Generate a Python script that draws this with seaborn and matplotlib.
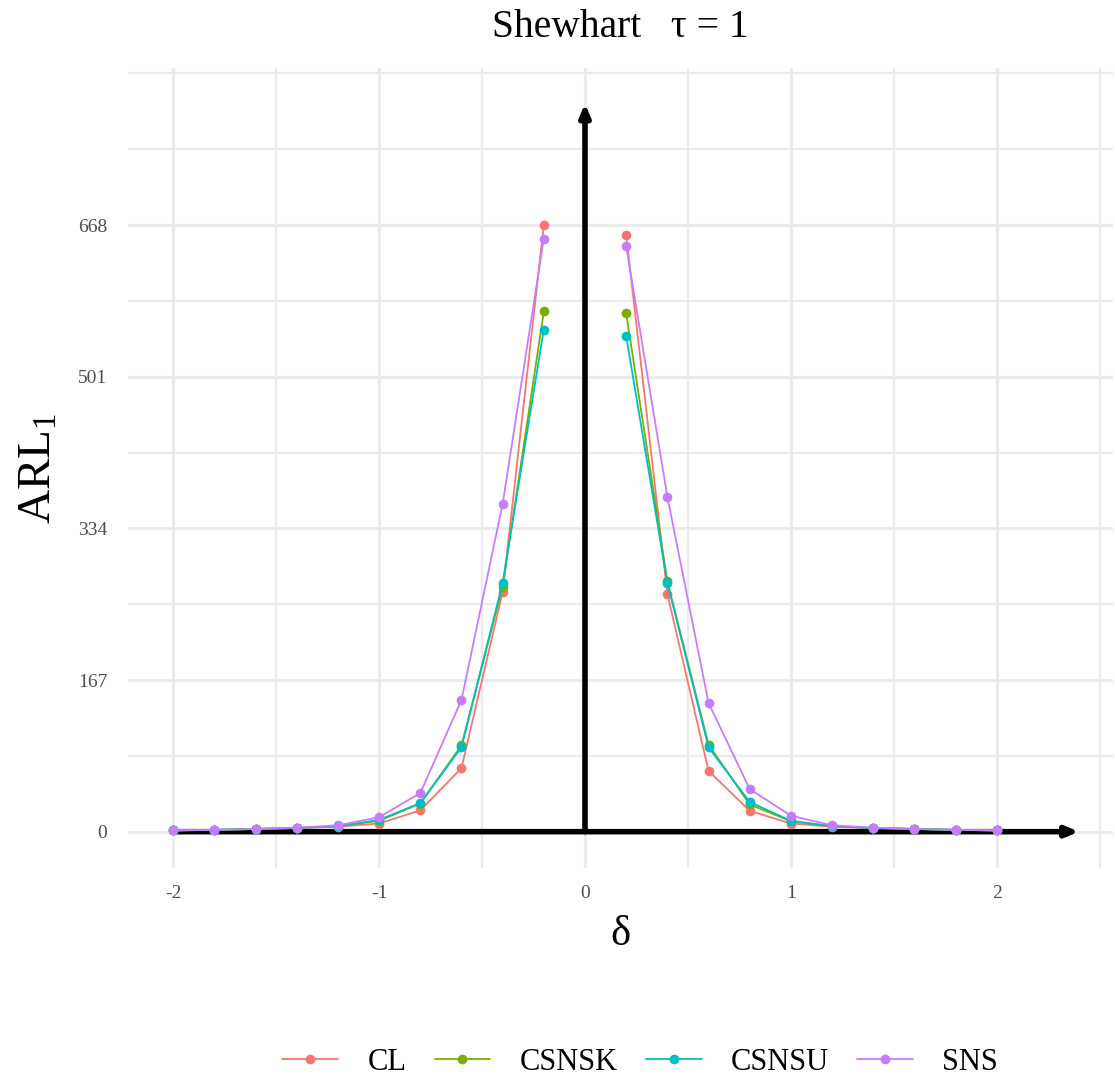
import numpy as np
import pandas as pd
import matplotlib
matplotlib.use("Agg")
import matplotlib.pyplot as plt
import seaborn as sns
from matplotlib.ticker import FixedLocator

# ---- data ----
delta = [-2.0, -1.8, -1.6, -1.4, -1.2, -1.0, -0.8, -0.6, -0.4, -0.2,
         0.2, 0.4, 0.6, 0.8, 1.0, 1.2, 1.4, 1.6, 1.8, 2.0]
arl_CL = [1.3, 2, 3, 4, 5.5, 9, 23.5, 70, 264, 668,
          657, 262, 67, 23, 9, 5.5, 4, 3, 2, 1.3]
arl_CSNSK = [1.4, 2, 3, 4, 6, 12, 31, 95, 270, 573,
             571, 276, 96, 30, 11.5, 6, 4, 3, 2, 1.4]
arl_CSNSU = [1.4, 2, 3, 4, 6, 13, 31.5, 93, 274, 553,
             546, 274, 93, 32.7, 12, 6, 4, 3, 2, 1.4]
arl_SNS = [1.5, 2, 3, 4.5, 7, 16, 42.5, 145, 361, 653,
           645, 369, 142, 47, 17.6, 7, 4.5, 3, 2, 1.5]
methods = ["CL", "CSNSK", "CSNSU", "SNS"]
colors = ["#F8766D", "#7CAE00", "#00BFC4", "#C77CFF"]
y_breaks = [0, 167, 334, 501, 668]
x_breaks = [-2, -1, 0, 1, 2]
title = "Shewhart   \u03c4 = 1"
# axis arrows (annotation)
x_arrow = (-2.0, 2.4)
y_arrow = 802

series = {"CL": arl_CL, "CSNSK": arl_CSNSK, "CSNSU": arl_CSNSU, "SNS": arl_SNS}
rows = []
for m in methods:
    for d, v in zip(delta, series[m]):
        rows.append({"delta": d, "ARL": v, "method": m, "side": "neg" if d < 0 else "pos"})
df = pd.DataFrame(rows)

sns.set_theme(style="white")
plt.rcParams["font.family"] = ["Liberation Serif", "DejaVu Serif"]
plt.rcParams["mathtext.fontset"] = "custom"
plt.rcParams["mathtext.rm"] = "Liberation Serif"
plt.rcParams["mathtext.it"] = "Liberation Serif:italic"

fig = plt.figure(figsize=(11.15, 10.82), dpi=100)
ax = fig.add_axes([128/1115, 1-868/1082, (1113-128)/1115, (868-68)/1082])

# grid
grid_c = "#EBEBEB"
ax.set_xlim(-2.22, 2.565)
ax.set_ylim(-40, 841)
ax.xaxis.set_major_locator(FixedLocator(x_breaks))
ax.xaxis.set_minor_locator(FixedLocator([-1.5, -0.5, 0.5, 1.5, 2.5]))
ax.yaxis.set_major_locator(FixedLocator(y_breaks))
ax.yaxis.set_minor_locator(FixedLocator([83.5, 250.5, 417.5, 584.5, 751.5, 835]))
ax.grid(which="major", color=grid_c, linewidth=2.2, zorder=0)
ax.grid(which="minor", color=grid_c, linewidth=1.6, zorder=0)
ax.set_axisbelow(True)
for s in ax.spines.values():
    s.set_visible(False)

# axis arrows
ax.annotate("", xy=(x_arrow[1], 0), xytext=(x_arrow[0], 0),
            arrowprops=dict(arrowstyle="-|>,head_length=0.6,head_width=0.25",
                            color="black", lw=4, shrinkA=0, shrinkB=0), zorder=1)
ax.annotate("", xy=(0, y_arrow), xytext=(0, 0),
            arrowprops=dict(arrowstyle="-|>,head_length=0.6,head_width=0.25",
                            color="black", lw=4, shrinkA=0, shrinkB=0), zorder=1)

sns.lineplot(data=df, x="delta", y="ARL", hue="method", units="side", estimator=None,
             hue_order=methods, palette=colors, marker="o", markersize=7,
             markeredgewidth=0, linewidth=1.3, ax=ax, zorder=3, sort=True)

ax.set_xticklabels([str(b) for b in x_breaks])
ax.set_yticklabels([str(b) for b in y_breaks])
ax.tick_params(axis="both", which="both", length=0, labelsize=14, colors="#4D4D4D")
ax.tick_params(axis="x", pad=12)
ax.tick_params(axis="y", pad=15)

ax.set_xlabel("\u03b4", fontsize=31, labelpad=10, color="black")
ax.set_ylabel(r"ARL$_\mathrm{1}$", fontsize=34, labelpad=12, color="black")
ax.set_title(title, fontsize=28.5, pad=22, color="black")

handles, labels = ax.get_legend_handles_labels()
ax.get_legend().remove()
fig.legend(handles, labels, loc="center", bbox_to_anchor=(640/1115, 1-1062/1082),
           ncol=4, frameon=False, fontsize=22, handlelength=1.83, columnspacing=0.92,
           handletextpad=0.95, labelcolor="black")

fig.savefig("out.png", dpi=100)
